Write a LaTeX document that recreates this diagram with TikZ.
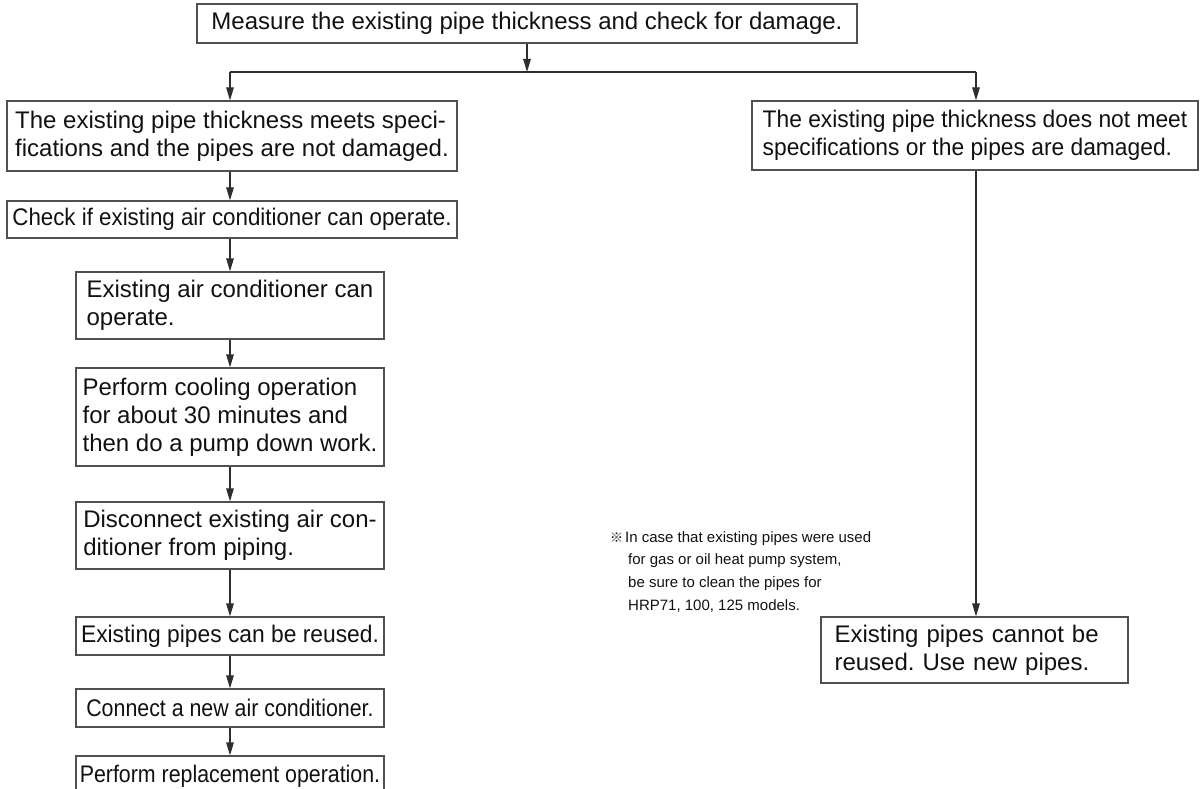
\documentclass[tikz,border=0pt]{standalone}
\usepackage{fontspec}
\setmainfont{Liberation Sans}
\newfontfamily\cjk{Noto Sans CJK JP}
\newfontfamily\narrowA[FakeStretch=0.93]{Liberation Sans}
\newfontfamily\narrowB[FakeStretch=0.89]{Liberation Sans}
\newfontfamily\narrowC[FakeStretch=0.95]{Liberation Sans}
\usetikzlibrary{arrows.meta}
\definecolor{boxc}{HTML}{505050}
\definecolor{linec}{HTML}{2E2E2E}
\definecolor{txt}{HTML}{111111}
\frenchspacing
\begin{document}
\begin{tikzpicture}[x=1pt,y=-1pt,
  bx/.style={draw=boxc, line width=1.2pt, inner sep=0pt, align=left, text=txt,
    font=\fontsize{24}{28}\selectfont},
  arr/.style={draw=linec, line width=1.2pt, -{Triangle[length=13pt,width=7.5pt]}},
  ln/.style={draw=linec, line width=1.2pt},
  notefont/.style={font=\fontsize{15}{22.7}\selectfont, text=txt}]
\useasboundingbox (0,0) rectangle (1200,789);
\clip (0,0) rectangle (1200,789);

\node[bx, minimum width=660pt, minimum height=39pt] (top) at (527,23.5)
  {Measure the existing pipe thickness and check for damage.};

\node[bx, minimum width=450pt, minimum height=70pt] (L1) at (232,136)
  {The existing pipe thickness meets speci-\\fications and the pipes are not damaged.};
\node[bx, minimum width=446pt, minimum height=69pt] (R1) at (975,135.5)
  {\narrowC The existing pipe thickness does not meet\\\narrowC specifications or the pipes are damaged.};

\node[bx, minimum width=450pt, minimum height=37pt] (C) at (232,219.5)
  {\narrowA Check if existing air conditioner can operate.};
\node[bx, minimum width=308pt, minimum height=67pt] (E1) at (230,305.5)
  {Existing air conditioner can\\operate.};
\node[bx, minimum width=308pt, minimum height=98pt] (P) at (230,417)
  {Perform cooling operation\\for about 30 minutes and\\then do a pump down work.};
\node[bx, minimum width=308pt, minimum height=67pt] (D) at (230,535.5)
  {Disconnect existing air con-\\ditioner from piping.};
\node[bx, minimum width=308pt, minimum height=38pt] (RU) at (230,636)
  {\narrowC Existing pipes can be reused.};
\node[bx, minimum width=308pt, minimum height=38pt] (CN) at (230,708)
  {\narrowB Connect a new air conditioner.};
\node[bx, minimum width=308pt, minimum height=40pt] (PR) at (230,776)
  {\narrowB Perform replacement operation.};

\node[bx, minimum height=66pt, text width=280pt, inner xsep=13.5pt] (NR) at (974.5,650)
  {Existing pipes cannot be\\reused. Use new pipes.};

\node[notefont, align=left, anchor=north west, inner sep=0pt] (note) at (610,531)
  {\makebox[15pt][l]{\cjk\fontsize{13}{13}\selectfont ※}In case that existing pipes were used\\
   \hspace*{18pt}for gas or oil heat pump system,\\
   \hspace*{18pt}be sure to clean the pipes for\\
   \hspace*{18pt}HRP71, 100, 125 models.};

\coordinate (sp) at (527,72);
\coordinate (jl) at (230,72);
\coordinate (jr) at (976,72);

\draw[arr] (top.south) -- (sp);
\draw[ln] (jl) -- (jr);
\draw[arr] (jl) -- (jl |- L1.north);
\draw[arr] (jr) -- (jr |- R1.north);
\draw[arr] (R1.south -| jr) -- (jr |- NR.north);

\draw[arr] (L1.south -| jl) -- (C.north -| jl);
\draw[arr] (C.south -| jl) -- (E1.north -| jl);
\draw[arr] (E1.south -| jl) -- (P.north -| jl);
\draw[arr] (P.south -| jl) -- (D.north -| jl);
\draw[arr] (D.south -| jl) -- (RU.north -| jl);
\draw[arr] (RU.south -| jl) -- (CN.north -| jl);
\draw[arr] (CN.south -| jl) -- (PR.north -| jl);
\end{tikzpicture}
\end{document}
